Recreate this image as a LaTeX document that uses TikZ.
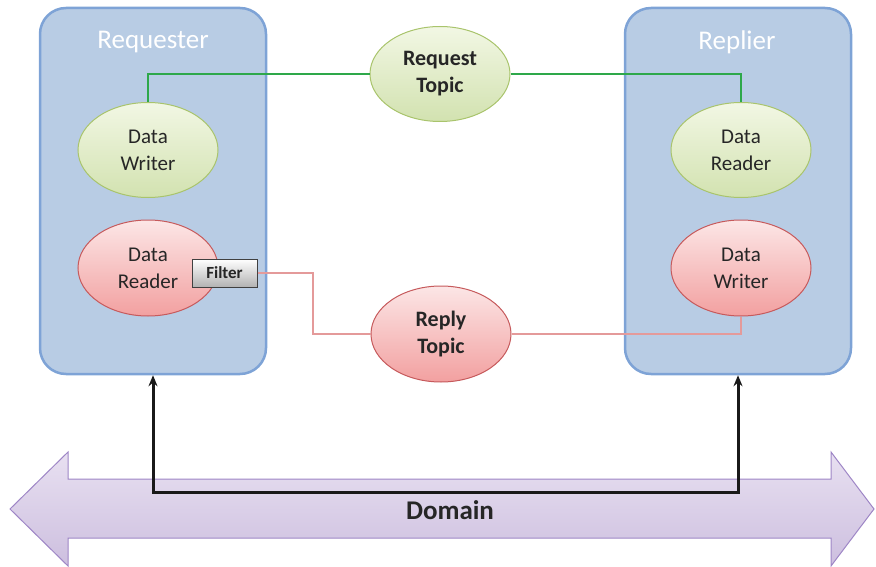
\documentclass[tikz,border=0pt]{standalone}
\usepackage{fontspec}
\setmainfont{Carlito}
\usetikzlibrary{shapes.geometric,arrows.meta,calc}
\definecolor{boxfill}{HTML}{B8CCE4}
\definecolor{boxline}{HTML}{7EA3D6}
\definecolor{gtop}{HTML}{F2F7E4}
\definecolor{gbot}{HTML}{D2E2B0}
\definecolor{gline}{HTML}{A9C46C}
\definecolor{rtop}{HTML}{FCE6E6}
\definecolor{rbot}{HTML}{F2A0A0}
\definecolor{rline}{HTML}{C65A5C}
\definecolor{greenwire}{HTML}{2EA84A}
\definecolor{redwire}{HTML}{E49A9A}
\definecolor{dtop}{HTML}{E8E0F1}
\definecolor{dbot}{HTML}{CDBFDF}
\definecolor{dline}{HTML}{9E86C6}
\definecolor{txt}{HTML}{262626}
\tikzset{
  container/.style={draw=boxline, line width=2.5pt, fill=boxfill, rounded corners=26pt, minimum width=226pt, minimum height=366pt, inner sep=0pt},
  title/.style={text=white, font=\fontsize{27}{30}\selectfont},
  greenell/.style={ellipse, draw=gline, line width=1pt, top color=gtop, bottom color=gbot, minimum width=140pt, minimum height=95pt, inner sep=0pt, align=center, text=txt, font=\fontsize{21}{27}\selectfont},
  redell/.style={ellipse, draw=rline, line width=1pt, top color=rtop, bottom color=rbot, minimum width=140pt, minimum height=96pt, inner sep=0pt, align=center, text=txt, font=\fontsize{21}{27}\selectfont},
  topicfont/.style={font=\fontsize{22}{27}\selectfont\bfseries},
  filterbox/.style={draw=black!75, line width=1pt, top color=white, bottom color=black!30, minimum width=65pt, minimum height=28pt, inner sep=0pt, font=\fontsize{17}{18}\selectfont\bfseries, text=txt},
  gwire/.style={draw=greenwire, line width=1.6pt},
  rwire/.style={draw=redwire, line width=1.6pt},
  bus/.style={draw=black!90, line width=3pt, {Stealth[length=11pt,width=9pt]}-{Stealth[length=11pt,width=9pt]}},
}
\begin{document}
\begin{tikzpicture}[x=1pt,y=-1pt]
\useasboundingbox (0,0) rectangle (876,567);
\clip (0,0) rectangle (876,567);
% Domain arrow
\draw[dline, line width=1pt, top color=dtop, bottom color=dbot]
  (10,509) -- (68,452) -- (68,479) -- (831,479) -- (831,452) -- (874,509)
  -- (831,566) -- (831,538) -- (68,538) -- (68,566) -- cycle;
\node[text=txt, font=\fontsize{27}{30}\selectfont\bfseries] (dom) at (450,510) {Domain};
% containers
\node[container] (req) at (153,191) {};
\node[container] (rep) at (738,191) {};
\node[title] (reqt) at (153,42) {Requester};
\node[title] (rept) at (737,42) {Replier};
% ellipses
\node[greenell] (lw) at (148,150) {Data\\Writer};
\node[redell] (lr) at (148,268) {Data\\Reader};
\node[filterbox] (filter) at (224.5,273) {Filter};
\node[greenell] (rr) at (741,150) {Data\\Reader};
\node[redell] (rw) at (741,268) {Data\\Writer};
\node[greenell, topicfont] (reqtopic) at (440,74) {Request\\Topic};
\node[redell, topicfont] (reptopic) at (441,334) {Reply\\Topic};
% wires
\draw[gwire] (lw.north) |- (reqtopic.west);
\draw[gwire] (reqtopic.east) -| (rr.north);
\coordinate (rbend) at (313,273);
\draw[rwire] (filter.east) -- (rbend) |- (reptopic.west);
\draw[rwire] (reptopic.east) -| (rw.south);
% bus
\coordinate (busy) at (445,492);
\draw[bus] (req.south) |- (busy) -| (rep.south);
\end{tikzpicture}
\end{document}
